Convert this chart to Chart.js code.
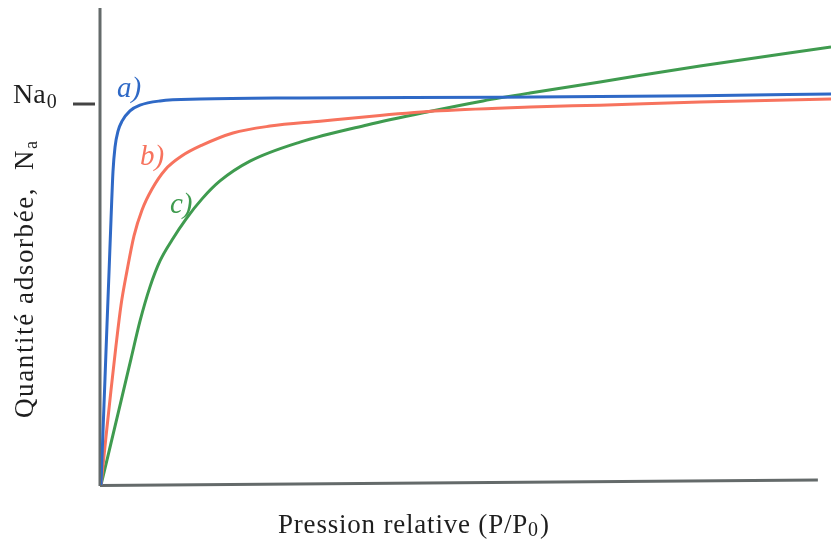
<!DOCTYPE html>
<html lang="fr">
<head>
  <meta charset="UTF-8" />
  <title>Isothermes d'adsorption</title>
  <script src="https://cdn.jsdelivr.net/npm/chart.js@4.4.0/dist/chart.umd.min.js"></script>
  <style>
    body { margin: 0; background: #fff; }
    #wrap { width: 831px; height: 540px; }
  </style>
</head>
<body>
  <div id="wrap"><canvas id="iso" width="831" height="540"></canvas></div>

  <script>
    // relative pressure P/P0 (0..1) and adsorbed amount (Na0 = 1)
    const xA = [0, 0.0027, 0.0055, 0.0082, 0.0110, 0.0137, 0.0164, 0.0192, 0.0233, 0.0288, 0.0397, 0.0534, 0.0808, 0.1356, 0.2726, 0.5466, 0.8205, 1.0];
    const yA = [0, 0.139, 0.281, 0.420, 0.559, 0.696, 0.822, 0.887, 0.929, 0.955, 0.982, 0.997, 1.008, 1.013, 1.016, 1.018, 1.022, 1.026];

    const xB = [0, 0.0068, 0.0137, 0.0205, 0.0274, 0.0356, 0.0452, 0.0562, 0.0699, 0.0877, 0.1110, 0.1384, 0.1808, 0.2315, 0.3000, 0.3822, 0.4644, 0.5877, 0.6836, 0.8205, 1.0];
    const yB = [0, 0.126, 0.249, 0.365, 0.472, 0.562, 0.654, 0.722, 0.777, 0.827, 0.864, 0.892, 0.924, 0.942, 0.955, 0.970, 0.982, 0.992, 0.997, 1.005, 1.013];

    const xC = [0, 0.0137, 0.0274, 0.0411, 0.0534, 0.0671, 0.0808, 0.0973, 0.1164, 0.1384, 0.1630, 0.2041, 0.2726, 0.3644, 0.4466, 0.5233, 0.5877, 0.6836, 0.8205, 1.0];
    const yC = [0, 0.110, 0.220, 0.331, 0.430, 0.520, 0.588, 0.643, 0.698, 0.751, 0.798, 0.850, 0.900, 0.945, 0.979, 1.008, 1.029, 1.058, 1.100, 1.150];

    const curveNames = ['a)', 'b)', 'c)'];
    const curveColors = ['#2f69c6', '#f7735e', '#3f9b4f'];

    const pts = (xs, ys) => xs.map((x, i) => ({ x: x, y: ys[i] }));

    const serif = '"Liberation Serif", "DejaVu Serif", serif';

    // axes, Na0 tick, labels
    const decor = {
      id: 'decor',
      beforeDatasetsDraw(chart) {
        const ctx = chart.ctx;
        const xs = chart.scales.x, ys = chart.scales.y;
        const x0 = xs.getPixelForValue(0), y0 = ys.getPixelForValue(0);
        ctx.save();
        ctx.strokeStyle = '#646a6a';
        ctx.lineWidth = 3;
        ctx.beginPath();
        ctx.moveTo(x0 - 1, y0 + 1);
        ctx.lineTo(x0 - 1, ys.getPixelForValue(ys.max));
        ctx.stroke();
        ctx.beginPath();
        ctx.moveTo(x0 - 1, y0 + 0.5);
        ctx.lineTo(xs.getPixelForValue(0.982), ys.getPixelForValue(0.013));
        ctx.stroke();
        // Na0 tick
        const yNa = ys.getPixelForValue(1);
        ctx.strokeStyle = '#444';
        ctx.beginPath();
        ctx.moveTo(x0 - 28, yNa);
        ctx.lineTo(x0 - 6, yNa);
        ctx.stroke();
        ctx.restore();
      },
      afterDraw(chart) {
        const ctx = chart.ctx;
        const ys = chart.scales.y;
        ctx.save();
        ctx.fillStyle = '#1e1e1e';
        ctx.textBaseline = 'alphabetic';
        ctx.textAlign = 'left';

        // Na0
        const yNa = ys.getPixelForValue(1);
        ctx.font = '28px ' + serif;
        ctx.fillText('Na', 13, yNa - 1);
        let w = ctx.measureText('Na').width;
        ctx.font = '20px ' + serif;
        ctx.fillText('0', 13 + w + 1, yNa + 4);

        // x title
        ctx.letterSpacing = '0.8px';
        ctx.font = '27px ' + serif;
        let tx = 278, ty = 533;
        ctx.fillText('Pression relative (P/P', tx, ty);
        w = ctx.measureText('Pression relative (P/P').width;
        ctx.font = '20px ' + serif;
        ctx.fillText('0', tx + w, ty + 3);
        const w0 = ctx.measureText('0').width;
        ctx.font = '27px ' + serif;
        ctx.fillText(')', tx + w + w0 + 1, ty);

        // y title
        ctx.save();
        ctx.translate(33, 418);
        ctx.rotate(-Math.PI / 2);
        ctx.font = '27px ' + serif;
        ctx.letterSpacing = '1.6px';
        const ytxt = 'Quantit\u00e9 adsorb\u00e9e,  N';
        ctx.fillText(ytxt, 0, 0);
        w = ctx.measureText(ytxt).width;
        ctx.font = '18px ' + serif;
        ctx.fillText('a', w, 4);
        ctx.restore();

        // curve labels
        ctx.letterSpacing = '0px';
        ctx.font = 'italic 29px ' + serif;
        const lab = [[117, 97], [140, 165], [170, 213]];
        curveNames.forEach((t, i) => {
          ctx.fillStyle = curveColors[i];
          ctx.fillText(t, lab[i][0], lab[i][1]);
        });
        ctx.restore();
      }
    };

    const mkSet = (xs, ys, i) => ({
      label: curveNames[i],
      data: pts(xs, ys),
      borderColor: curveColors[i],
      borderWidth: 3,
      pointRadius: 0,
      fill: false,
      cubicInterpolationMode: 'monotone'
    });

    new Chart(document.getElementById('iso'), {
      type: 'line',
      data: {
        datasets: [mkSet(xA, yA, 0), mkSet(xB, yB, 1), mkSet(xC, yC, 2)]
      },
      options: {
        responsive: false,
        animation: false,
        layout: { padding: { left: 101, right: 0, top: 8, bottom: 55 } },
        scales: {
          x: { type: 'linear', min: 0, max: 1, display: false },
          y: { type: 'linear', min: 0, max: 1.252, display: false }
        },
        plugins: {
          legend: { display: false },
          tooltip: { enabled: false }
        }
      },
      plugins: [decor]
    });
  </script>
</body>
</html>
